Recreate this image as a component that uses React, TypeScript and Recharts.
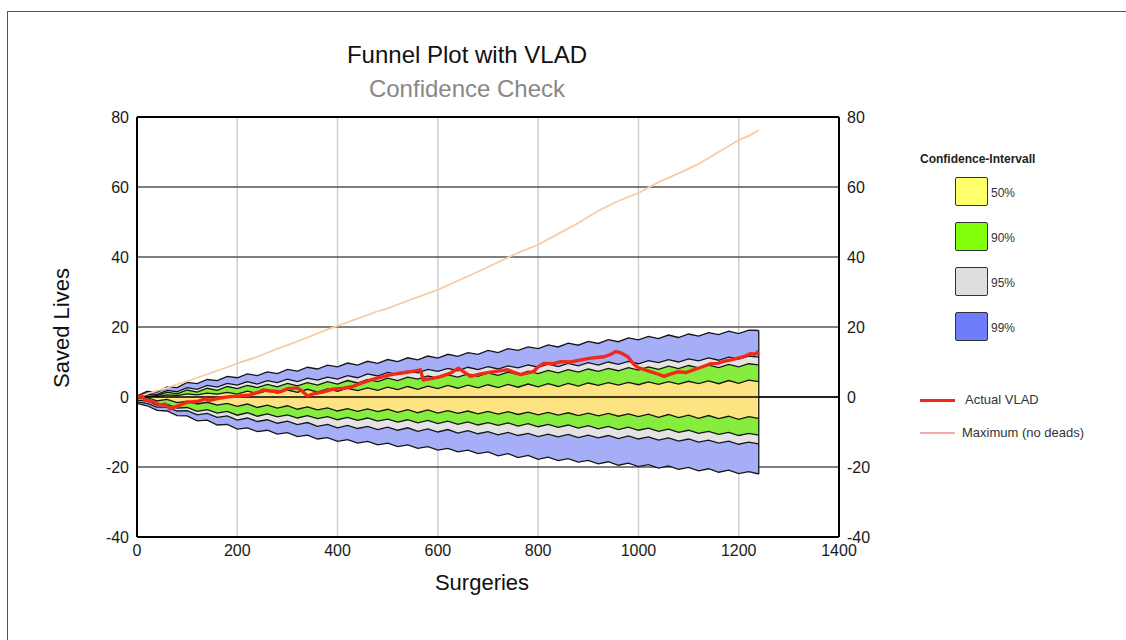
import {
  ComposedChart,
  Area,
  Line,
  XAxis,
  YAxis,
  CartesianGrid,
  ReferenceLine,
} from 'recharts';

const FONT = '"Liberation Sans", Arial, Helvetica, sans-serif';

// x positions of the funnel limits (number of surgeries)
const surgeries = [
  0, 20, 40, 60, 80, 100, 120, 140, 160, 180,
  200, 220, 240, 260, 280, 300, 320, 340, 360, 380,
  400, 420, 440, 460, 480, 500, 520, 540, 560, 580,
  600, 620, 640, 660, 680, 700, 720, 740, 760, 780,
  800, 820, 840, 860, 880, 900, 920, 940, 960, 980,
  1000, 1020, 1040, 1060, 1080, 1100, 1120, 1140, 1160, 1180,
  1200, 1220, 1240,
];

// 99% limits
const blueHi = [
  0.3, 1.6, 1.4, 2.9, 2.7, 4.2, 3.8, 5.0, 4.7, 5.9,
  5.5, 6.6, 6.1, 7.2, 6.7, 7.9, 7.4, 8.5, 8.0, 9.1,
  8.6, 9.7, 9.1, 10.2, 9.6, 10.7, 10.1, 11.2, 10.6, 11.7,
  11.1, 12.2, 11.6, 12.7, 12.2, 13.3, 12.7, 13.8, 13.3, 14.3,
  13.8, 14.9, 14.3, 15.4, 14.8, 15.9, 15.3, 16.4, 15.8, 16.9,
  16.3, 17.3, 16.7, 17.7, 17.0, 18.0, 17.4, 18.4, 17.8, 18.8,
  18.1, 19.1, 19.0,
];
const blueLo = [
  -1.8, -2.5, -3.8, -4.0, -5.3, -5.4, -6.8, -6.6, -8.0, -7.8,
  -9.2, -8.8, -9.9, -9.5, -10.6, -10.2, -11.3, -10.9, -12.0, -11.6,
  -12.7, -12.2, -13.2, -12.7, -13.7, -13.2, -14.2, -13.7, -14.7, -14.2,
  -15.2, -14.7, -15.7, -15.2, -16.2, -15.7, -16.8, -16.2, -17.3, -16.7,
  -17.8, -17.2, -18.2, -17.6, -18.6, -18.1, -19.1, -18.5, -19.5, -18.9,
  -19.9, -19.3, -20.3, -19.7, -20.7, -20.1, -21.1, -20.5, -21.5, -20.9,
  -21.9, -21.3, -22.0,
];

// 95% limits
const grayHi = [
  0.2, 1.1, 0.7, 1.9, 1.5, 2.7, 2.2, 3.3, 2.8, 3.9,
  3.4, 4.4, 3.7, 4.7, 4.1, 5.1, 4.4, 5.4, 4.8, 5.7,
  5.1, 6.1, 5.5, 6.6, 6.0, 7.0, 6.4, 7.4, 6.9, 7.9,
  7.3, 8.2, 7.5, 8.5, 7.8, 8.7, 8.0, 8.9, 8.3, 9.2,
  8.5, 9.4, 8.7, 9.6, 8.9, 9.8, 9.1, 10.0, 9.3, 10.2,
  9.5, 10.4, 9.8, 10.7, 10.0, 10.9, 10.3, 11.2, 10.5, 11.4,
  10.8, 11.7, 11.4,
];
const grayLo = [
  -1.4, -1.8, -2.9, -2.9, -4.0, -3.9, -5.1, -4.7, -5.8, -5.4,
  -6.6, -6.0, -7.0, -6.5, -7.5, -6.9, -7.9, -7.3, -8.4, -7.8,
  -8.8, -8.1, -9.0, -8.4, -9.3, -8.6, -9.5, -8.8, -9.8, -9.1,
  -10.0, -9.3, -10.3, -9.6, -10.5, -9.9, -10.8, -10.1, -11.0, -10.4,
  -11.3, -10.6, -11.4, -10.7, -11.6, -10.9, -11.7, -11.0, -11.9, -11.1,
  -12.0, -11.4, -12.3, -11.7, -12.6, -12.0, -12.9, -12.3, -13.2, -12.6,
  -13.5, -12.9, -13.4,
];

// 90% limits
const greenHi = [
  0.1, 0.9, 0.4, 1.4, 0.9, 2.0, 1.4, 2.5, 1.9, 3.0,
  2.4, 3.3, 2.7, 3.6, 2.9, 3.9, 3.2, 4.1, 3.4, 4.4,
  3.7, 4.7, 4.0, 5.0, 4.4, 5.4, 4.7, 5.7, 5.1, 6.0,
  5.4, 6.3, 5.7, 6.6, 5.9, 6.9, 6.2, 7.1, 6.4, 7.4,
  6.7, 7.6, 6.9, 7.8, 7.1, 8.0, 7.3, 8.2, 7.5, 8.4,
  7.7, 8.6, 7.9, 8.8, 8.1, 9.0, 8.3, 9.1, 8.4, 9.3,
  8.6, 9.5, 9.2,
];
const greenLo = [
  -0.9, -1.2, -2.3, -2.1, -3.2, -3.0, -4.1, -3.6, -4.6, -4.1,
  -5.2, -4.5, -5.5, -4.8, -5.7, -5.1, -6.0, -5.3, -6.2, -5.6,
  -6.5, -5.8, -6.7, -6.0, -6.9, -6.3, -7.2, -6.5, -7.4, -6.7,
  -7.6, -6.9, -7.8, -7.1, -8.0, -7.3, -8.1, -7.4, -8.3, -7.6,
  -8.5, -7.8, -8.7, -8.0, -8.9, -8.2, -9.1, -8.4, -9.3, -8.6,
  -9.5, -8.9, -9.8, -9.2, -10.1, -9.5, -10.4, -9.8, -10.7, -10.1,
  -11.0, -10.4, -10.9,
];

// 50% limits
const yellowHi = [
  0, 0.3, 0.1, 0.6, 0.4, 0.9, 0.6, 1.1, 0.8, 1.3,
  0.8, 1.7, 1.0, 1.8, 1.1, 2.0, 1.3, 2.2, 1.4, 2.3,
  1.6, 2.5, 1.8, 2.6, 1.9, 2.8, 2.1, 3.0, 2.2, 3.1,
  2.4, 3.3, 2.5, 3.4, 2.6, 3.5, 2.7, 3.6, 2.8, 3.7,
  2.9, 3.8, 3.0, 3.9, 3.1, 4.0, 3.3, 4.1, 3.4, 4.2,
  3.5, 4.3, 3.6, 4.4, 3.7, 4.5, 3.8, 4.6, 3.8, 4.7,
  3.9, 4.8, 4.4,
];
const yellowLo = [
  -0.3, -0.2, -1.1, -0.7, -1.6, -1.2, -2.0, -1.5, -2.3, -1.8,
  -2.7, -2.0, -3.0, -2.3, -3.2, -2.5, -3.5, -2.8, -3.7, -3.1,
  -4.0, -3.3, -4.1, -3.4, -4.2, -3.5, -4.4, -3.6, -4.5, -3.7,
  -4.6, -3.9, -4.7, -4.0, -4.8, -4.1, -4.9, -4.2, -5.0, -4.3,
  -5.1, -4.4, -5.2, -4.5, -5.3, -4.6, -5.4, -4.7, -5.5, -4.8,
  -5.6, -4.9, -5.8, -5.0, -5.9, -5.2, -6.1, -5.3, -6.2, -5.5,
  -6.4, -5.6, -6.1,
];

// Actual VLAD curve
const vladX = [
  0, 10, 16, 30, 46, 56, 66, 76, 86, 100,
  120, 135, 146, 165, 186, 205, 226, 240, 252, 266,
  286, 300, 320, 330, 340, 355, 372, 390, 412, 430,
  445, 465, 485, 505, 525, 545, 565, 571, 590, 605,
  625, 641, 655, 665, 685, 705, 720, 739, 750, 765,
  780, 791, 800, 811, 830, 845, 865, 885, 905, 931,
  945, 955, 965, 979, 990, 999, 1012, 1025, 1040, 1051,
  1065, 1079, 1095, 1111, 1125, 1144, 1158, 1170, 1185, 1198,
  1212, 1224, 1232, 1240,
];
const vladY = [
  0, 0.3, -0.9, -1.2, -2.3, -2.0, -3.4, -2.8, -2.3, -1.5,
  -1.3, -0.6, -0.9, -0.3, 0.1, 0.3, 0.6, 1.3, 2.0, 1.7,
  1.5, 2.4, 2.6, 1.6, 0.3, 1.0, 1.5, 2.2, 2.5, 3.0,
  3.8, 4.8, 5.6, 6.3, 6.8, 7.2, 7.7, 4.9, 5.3, 5.8,
  6.8, 8.2, 6.9, 5.9, 6.6, 7.1, 7.4, 7.8, 7.1, 6.4,
  6.9, 7.3, 8.6, 9.6, 9.5, 10.1, 10.0, 10.6, 11.1, 11.5,
  12.2, 13.0, 12.6, 11.5, 9.5, 8.4, 7.8, 7.2, 6.5, 5.9,
  6.6, 7.2, 7.0, 7.8, 8.5, 9.5, 9.6, 10.2, 10.6, 11.1,
  11.6, 12.4, 12.2, 13.0,
];

// Maximum (no deads)
const maxX = [
  0, 20, 40, 60, 80, 100, 140, 180, 200, 240,
  280, 300, 340, 380, 400, 440, 480, 500, 540, 580,
  600, 640, 680, 720, 760, 800, 840, 880, 920, 960,
  1000, 1040, 1080, 1120, 1160, 1200, 1220, 1240,
];
const maxY = [
  0, 0.9, 1.8, 2.6, 3.6, 4.5, 6.5, 8.5, 9.6, 11.5,
  13.8, 14.8, 17.0, 19.3, 20.3, 22.4, 24.5, 25.3, 27.5, 29.6,
  30.6, 33.2, 35.8, 38.5, 41.2, 43.5, 46.6, 49.7, 53.2, 56.0,
  58.3, 61.4, 63.9, 66.6, 70.0, 73.4, 74.6, 76.2,
];

const xTicks = [0, 200, 400, 600, 800, 1000, 1200, 1400];
const yTicks = [-40, -20, 0, 20, 40, 60, 80];

const bandRows = surgeries.map((x, i) => ({
  x,
  blue: [blueLo[i], blueHi[i]],
  gray: [grayLo[i], grayHi[i]],
  green: [greenLo[i], greenHi[i]],
  yellow: [yellowLo[i], yellowHi[i]],
}));
const vladRows = vladX.map((x, i) => ({ x, v: vladY[i] }));
const maxRows = maxX.map((x, i) => ({ x, v: maxY[i] }));

const bands = [
  { key: 'blue', fill: '#a5aef6' },
  { key: 'gray', fill: '#e4e4e4' },
  { key: 'green', fill: '#86ec3e' },
  { key: 'yellow', fill: '#fde381' },
];

const legendBoxes = [
  { label: '50%', color: '#ffff6a' },
  { label: '90%', color: '#84ff0a' },
  { label: '95%', color: '#dedede' },
  { label: '99%', color: '#6e7dfb' },
];

const last = surgeries.length - 1;

export default function App() {
  const tick = { fill: '#1a1a1a', fontSize: 16, fontFamily: FONT };
  return (
    <div
      style={{
        position: 'absolute',
        left: 0,
        top: 0,
        width: 1126,
        height: 640,
        overflow: 'hidden',
        background: '#fff',
        fontFamily: FONT,
      }}
    >
      <div
        style={{
          position: 'absolute',
          left: 7,
          top: 11,
          width: 1200,
          height: 700,
          border: '1px solid #555',
        }}
      />
      <ComposedChart
        width={1126}
        height={640}
        data={bandRows}
        margin={{ top: 117, right: 227, bottom: 73, left: 77 }}
        style={{ position: 'absolute', left: 0, top: 0 }}
      >
        <CartesianGrid horizontal={false} stroke="#d0d0d0" strokeWidth={1.5} />
        <CartesianGrid vertical={false} stroke="#555" strokeWidth={1.5} />
        <XAxis
          dataKey="x"
          type="number"
          domain={[0, 1400]}
          ticks={xTicks}
          interval={0}
          height={30}
          tickLine={false}
          axisLine={{ stroke: '#000', strokeWidth: 2 }}
          tick={tick}
        />
        <YAxis
          type="number"
          domain={[-40, 80]}
          ticks={yTicks}
          interval={0}
          width={60}
          tickLine={false}
          axisLine={{ stroke: '#000', strokeWidth: 2 }}
          tick={tick}
        />
        <YAxis
          yAxisId="right"
          orientation="right"
          type="number"
          domain={[-40, 80]}
          ticks={yTicks}
          interval={0}
          width={60}
          tickLine={false}
          axisLine={{ stroke: '#000', strokeWidth: 2 }}
          tick={tick}
        />
        {bands.map(b => (
          <Area
            key={b.key}
            type="linear"
            dataKey={b.key}
            fill={b.fill}
            fillOpacity={1}
            stroke="#151515"
            strokeWidth={1.3}
            dot={false}
            activeDot={false}
            isAnimationActive={false}
          />
        ))}
        <ReferenceLine y={0} stroke="#000" strokeWidth={1.5} />
        <ReferenceLine y={80} stroke="#000" strokeWidth={2} />
        <ReferenceLine
          segment={[
            { x: surgeries[last], y: blueLo[last] },
            { x: surgeries[last], y: blueHi[last] },
          ]}
          stroke="#151515"
          strokeWidth={1.3}
        />
        <Line
          yAxisId="right"
          data={maxRows}
          dataKey="v"
          type="linear"
          stroke="#f9cba2"
          strokeWidth={1.8}
          dot={false}
          activeDot={false}
          isAnimationActive={false}
        />
        <Line
          data={vladRows}
          dataKey="v"
          type="linear"
          stroke="#f2291a"
          strokeWidth={3.4}
          dot={false}
          activeDot={false}
          isAnimationActive={false}
        />
      </ComposedChart>

      <div style={{ position: 'absolute', left: 267, width: 400, top: 41, textAlign: 'center', fontSize: 24, color: '#111' }}>
        Funnel Plot with VLAD
      </div>
      <div style={{ position: 'absolute', left: 267, width: 400, top: 75, textAlign: 'center', fontSize: 24, color: '#888' }}>
        Confidence Check
      </div>
      <div
        style={{
          position: 'absolute',
          left: 62,
          top: 328,
          transform: 'translate(-50%, -50%) rotate(-90deg)',
          fontSize: 22,
          color: '#111',
          whiteSpace: 'nowrap',
        }}
      >
        Saved Lives
      </div>
      <div style={{ position: 'absolute', left: 382, width: 200, top: 570, textAlign: 'center', fontSize: 22, color: '#111' }}>
        Surgeries
      </div>

      <div style={{ position: 'absolute', left: 920, top: 152, fontSize: 12, fontWeight: 'bold', color: '#222' }}>
        Confidence-Intervall
      </div>
      {legendBoxes.map((b, i) => (
        <div key={b.label}>
          <div
            style={{
              position: 'absolute',
              left: 955,
              top: 177 + i * 45,
              width: 31,
              height: 27,
              background: b.color,
              border: '1.5px solid #333',
              borderRadius: 2,
            }}
          />
          <div style={{ position: 'absolute', left: 991, top: 186 + i * 45, fontSize: 12, color: '#333' }}>
            {b.label}
          </div>
        </div>
      ))}
      <div style={{ position: 'absolute', left: 920, top: 399, width: 35, height: 3, background: '#f2291a' }} />
      <div style={{ position: 'absolute', left: 965, top: 392, fontSize: 13, color: '#333' }}>Actual VLAD</div>
      <div style={{ position: 'absolute', left: 920, top: 432, width: 35, height: 2, background: '#f6a9a9' }} />
      <div style={{ position: 'absolute', left: 962, top: 425, fontSize: 13, color: '#333' }}>Maximum (no deads)</div>
    </div>
  );
}
